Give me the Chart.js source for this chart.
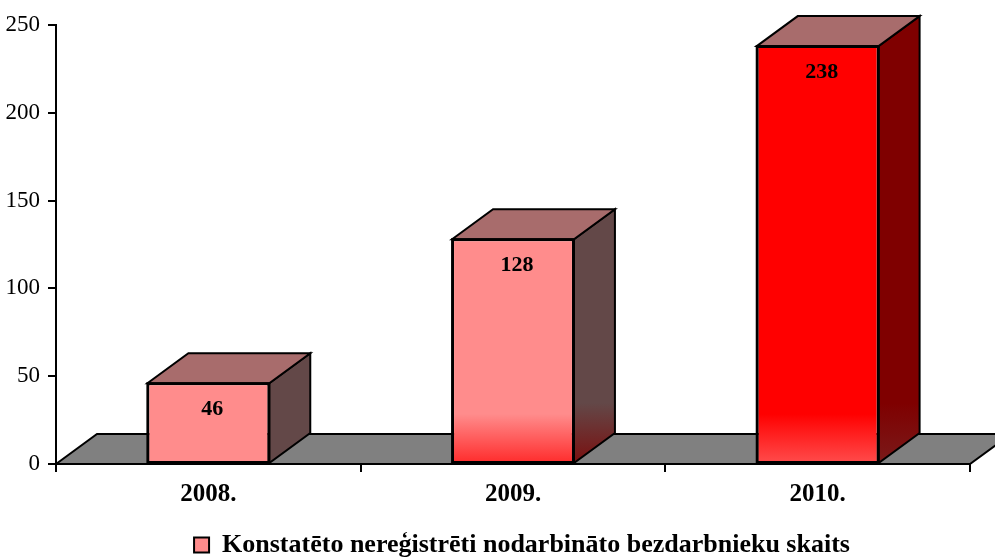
<!DOCTYPE html>
<html>
<head>
<meta charset="utf-8">
<script src="https://cdn.jsdelivr.net/npm/chart.js@4/dist/chart.umd.min.js"></script>
<style>
  html, body { margin: 0; padding: 0; background: #fff; }
  #wrap { width: 995px; height: 559px; }
</style>
</head>
<body>
<div id="wrap"><canvas id="chart"></canvas></div>
<script>
const categories = ["2008.", "2009.", "2010."];
const values = [46, 128, 238];
const seriesName = "Konstatēto nereģistrēti nodarbināto bezdarbnieku skaits";
const yMax = 250;
const yStep = 50;

// colours per bar (front / side), and whether the bottom gets the red glow
const frontColors = ["#ff8c8c", "#ff8c8c", "#ff0000"];
const frontGlow = [null, "#ff2a2a", "#ff4d4d"];
const sideColors = ["#634848", "#634848", "#7f0000"];
const sideGlow = [null, "#7a1010", "#7a1a1a"];
const topColor = "#a86c6c";

const serif = "'Times New Roman', 'Liberation Serif', serif";
const DX = 41;
const DY = 30;

function glowFill(chart, base, glow, i) {
  const a = chart.chartArea;
  if (!a || !glow[i]) return base[i];
  const g = chart.ctx.createLinearGradient(0, a.bottom - 50, 0, a.bottom);
  g.addColorStop(0, base[i]);
  g.addColorStop(1, glow[i]);
  return g;
}

// gray floor under the bars
const floor3d = {
  id: "floor3d",
  beforeDatasetsDraw(chart) {
    const { ctx, chartArea: a } = chart;
    ctx.save();
    ctx.beginPath();
    ctx.moveTo(a.left, a.bottom);
    ctx.lineTo(a.left + DX, a.bottom - DY);
    ctx.lineTo(a.right + DX, a.bottom - DY);
    ctx.lineTo(a.right, a.bottom);
    ctx.closePath();
    ctx.fillStyle = "#808080";
    ctx.fill();
    ctx.lineWidth = 2;
    ctx.strokeStyle = "#000";
    ctx.stroke();
    ctx.restore();
  },
};

// top + side faces and value labels
const bars3d = {
  id: "bars3d",
  afterDatasetsDraw(chart) {
    const ctx = chart.ctx;
    const meta = chart.getDatasetMeta(0);
    meta.data.forEach((bar, i) => {
      const { x, y, base, width } = bar.getProps(["x", "y", "base", "width"], true);
      const l = x - width / 2;
      const r = x + width / 2;
      ctx.save();
      ctx.lineWidth = 2;
      ctx.strokeStyle = "#000";
      ctx.lineJoin = "miter";

      // side
      ctx.beginPath();
      ctx.moveTo(r, y);
      ctx.lineTo(r + DX, y - DY);
      ctx.lineTo(r + DX, base - DY);
      ctx.lineTo(r, base);
      ctx.closePath();
      if (sideGlow[i]) {
        const g = ctx.createLinearGradient(0, base - 60, 0, base);
        g.addColorStop(0, sideColors[i]);
        g.addColorStop(1, sideGlow[i]);
        ctx.fillStyle = g;
      } else {
        ctx.fillStyle = sideColors[i];
      }
      ctx.fill();
      ctx.stroke();

      // top
      ctx.beginPath();
      ctx.moveTo(l, y);
      ctx.lineTo(l + DX, y - DY);
      ctx.lineTo(r + DX, y - DY);
      ctx.lineTo(r, y);
      ctx.closePath();
      ctx.fillStyle = topColor;
      ctx.fill();
      ctx.stroke();

      // front outline, a bit heavier than the library's inset border
      ctx.strokeRect(l, y, width, base - y);

      // value
      ctx.fillStyle = "#000";
      ctx.font = "bold 22px " + serif;
      ctx.textAlign = "center";
      ctx.textBaseline = "middle";
      ctx.fillText(values[i], x + 4, y + 26);
      ctx.restore();
    });
  },
};

// legend sits a little right of centre and low in the original
const legendShift = {
  id: "legendShift",
  afterLayout(chart) {
    chart.legend.left += 37;
    chart.legend.right += 37;
    chart.legend.top += 9;
    chart.legend.bottom += 9;
  },
};

new Chart(document.getElementById("chart"), {
  type: "bar",
  data: {
    labels: categories,
    datasets: [
      {
        label: seriesName,
        data: values,
        backgroundColor: (c) => glowFill(c.chart, frontColors, frontGlow, c.dataIndex),
        borderColor: "#000",
        borderWidth: 2,
        borderSkipped: false,
        barPercentage: 0.4,
        categoryPercentage: 1,
      },
    ],
  },
  options: {
    responsive: true,
    maintainAspectRatio: false,
    animation: false,
    layout: { padding: { top: 25, right: 25, left: 0, bottom: 0 } },
    scales: {
      x: {
        grid: {
          drawOnChartArea: false,
          color: "#000",
          lineWidth: 2,
          tickLength: 8,
        },
        border: { color: "#000", width: 2 },
        ticks: {
          color: "#000",
          padding: 8,
          font: { family: serif, size: 25, weight: "bold" },
        },
        afterFit(scale) {
          scale.height = 55;
        },
      },
      y: {
        min: 0,
        max: yMax,
        grid: {
          drawOnChartArea: false,
          color: "#000",
          lineWidth: 2,
          tickLength: 8,
        },
        border: { color: "#000", width: 2 },
        ticks: {
          stepSize: yStep,
          color: "#000",
          padding: 8,
          font: { family: serif, size: 23 },
        },
        afterFit(scale) {
          scale.width = 56;
        },
      },
    },
    plugins: {
      tooltip: { enabled: false },
      legend: {
        position: "bottom",
        labels: {
          color: "#000",
          boxWidth: 15,
          boxHeight: 15,
          padding: 4,
          font: { family: serif, size: 26, weight: "bold" },
          generateLabels: () => [
            {
              text: seriesName,
              fillStyle: frontColors[0],
              strokeStyle: "#000",
              lineWidth: 2,
              datasetIndex: 0,
            },
          ],
        },
      },
    },
  },
  plugins: [floor3d, bars3d, legendShift],
});
</script>
</body>
</html>
